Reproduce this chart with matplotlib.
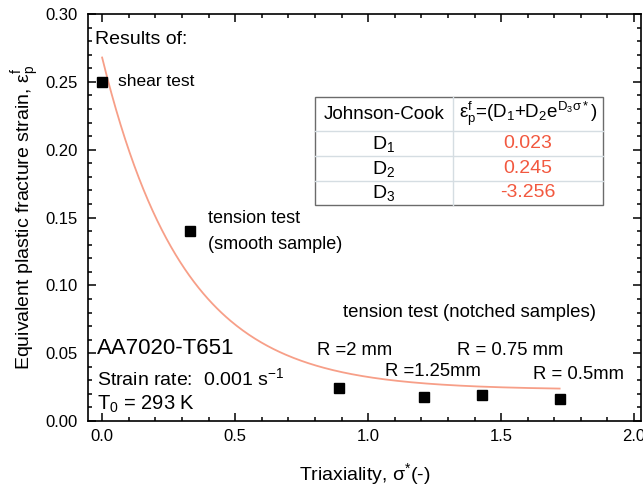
import numpy as np
import matplotlib
matplotlib.use("Agg")
import matplotlib.pyplot as plt
from matplotlib.ticker import MultipleLocator, FormatStrFormatter

plt.rcParams['font.family'] = ['Liberation Sans', 'DejaVu Sans']
plt.rcParams['mathtext.fontset'] = 'custom'
plt.rcParams['mathtext.rm'] = 'Liberation Sans'
plt.rcParams['mathtext.it'] = 'Liberation Sans:italic'
plt.rcParams['mathtext.bf'] = 'Liberation Sans:bold'

# Measured fracture strains
triaxiality = [0.0, 0.33, 0.89, 1.21, 1.43, 1.72]
fracture_strain = [0.25, 0.14, 0.024, 0.018, 0.019, 0.016]

# Johnson-Cook damage parameters
D1, D2, D3 = 0.023, 0.245, -3.256
param_names = ["D$_1$", "D$_2$", "D$_3$"]
param_values = [D1, D2, D3]
fit_range = (0.0, 1.72)

x_ticks = [0.0, 0.5, 1.0, 1.5, 2.0]
y_ticks = [0.00, 0.05, 0.10, 0.15, 0.20, 0.25, 0.30]

fig = plt.figure(figsize=(6.43, 4.92), dpi=100)
ax = fig.add_axes([0.1369, 0.1443, 0.860, 0.827])

sig = np.linspace(fit_range[0], fit_range[1], 300)
ax.plot(sig, D1 + D2 * np.exp(D3 * sig), color='#f79f88', lw=1.3, zorder=2)
ax.plot(triaxiality, fracture_strain, 's', color='black', ms=7, zorder=3)

ax.set_xlim(-0.053, 2.026)
ax.set_ylim(0.0, 0.30)
ax.set_xticks(x_ticks)
ax.set_yticks(y_ticks)
ax.xaxis.set_minor_locator(MultipleLocator(0.1))
ax.yaxis.set_minor_locator(MultipleLocator(0.01))
ax.xaxis.set_major_formatter(FormatStrFormatter('%.1f'))
ax.yaxis.set_major_formatter(FormatStrFormatter('%.2f'))
ax.tick_params(which='both', direction='in', top=True, right=True, labelsize=12, width=1.1)
ax.tick_params(which='major', length=5.5)
ax.tick_params(axis='y', which='major', pad=7.5)
ax.tick_params(axis='x', which='major', pad=6)
ax.tick_params(which='minor', length=3)
for s in ax.spines.values():
    s.set_linewidth(1.2)

ax.set_xlabel(r"Triaxiality, σ$^{*}$(-)", fontsize=14, labelpad=12)
ax.set_ylabel(r"Equivalent plastic fracture strain, ε$_\mathrm{p}^\mathrm{f}$",
              fontsize=14, labelpad=2)

# Annotations
ax.text(-0.028, 0.281, "Results of:", fontsize=14, va='center', ha='left')
ax.text(0.06, 0.2505, "shear test", fontsize=12.5, va='center', ha='left')
ax.text(0.398, 0.149, "tension test", fontsize=13, va='center', ha='left')
ax.text(0.398, 0.130, "(smooth sample)", fontsize=13, va='center', ha='left')
ax.text(0.906, 0.080, "tension test (notched samples)", fontsize=13.4, va='center', ha='left')
ax.text(0.808, 0.0523, "R =2 mm", fontsize=13.3, va='center', ha='left')
ax.text(1.335, 0.0523, "R = 0.75 mm", fontsize=13.3, va='center', ha='left')
ax.text(1.064, 0.0363, "R =1.25mm", fontsize=13.3, va='center', ha='left')
ax.text(1.619, 0.034, "R = 0.5mm", fontsize=13.3, va='center', ha='left')

ax.text(-0.02, 0.0535, "AA7020-T651", fontsize=16, va='center', ha='left')
ax.text(-0.02, 0.0315, r"Strain rate:  0.001 s$^{-1}$", fontsize=14, va='center', ha='left')
ax.text(-0.02, 0.0125, r"T$_0$ = 293 K", fontsize=14.5, va='center', ha='left')

# Parameter table
tl, tr, tm = 0.4105, 0.931, 0.660
row_edges = [0.796, 0.7125, 0.651, 0.590, 0.531]
tab_kw = dict(transform=ax.transAxes, zorder=4)
ax.add_patch(plt.Rectangle((tl, row_edges[-1]), tr - tl, row_edges[0] - row_edges[-1],
                           facecolor='white', edgecolor='#6b6b6b', lw=1.0, **tab_kw))
for ye in row_edges[1:-1]:
    ax.plot([tl, tr], [ye, ye], color='#d5dde2', lw=1.0, **tab_kw)
ax.plot([tm, tm], [row_edges[0], row_edges[-1]], color='#d5dde2', lw=1.0, **tab_kw)

cx_left = (tl + tm) / 2
cx_right = (tm + tr) / 2
hy = (row_edges[0] + row_edges[1]) / 2
ax.text(cx_left, hy, "Johnson-Cook", fontsize=13.5, ha='center', va='center',
        transform=ax.transAxes, zorder=5)
ax.text(cx_right, hy, r"ε$_\mathrm{p}^\mathrm{f}$=(D$_1$+D$_2$e$^{\mathrm{D_3σ*}}$)",
        fontsize=13.5, ha='center', va='center', transform=ax.transAxes, zorder=5)
for i, (nm, val) in enumerate(zip(param_names, param_values)):
    yc = (row_edges[i + 1] + row_edges[i + 2]) / 2
    ax.text(cx_left, yc, nm, fontsize=14, ha='center', va='center',
            transform=ax.transAxes, zorder=5)
    ax.text(cx_right, yc, f"{val:.3f}", fontsize=14, color='#f2583f', ha='center',
            va='center', transform=ax.transAxes, zorder=5)

fig.savefig("out.png", dpi=100)
